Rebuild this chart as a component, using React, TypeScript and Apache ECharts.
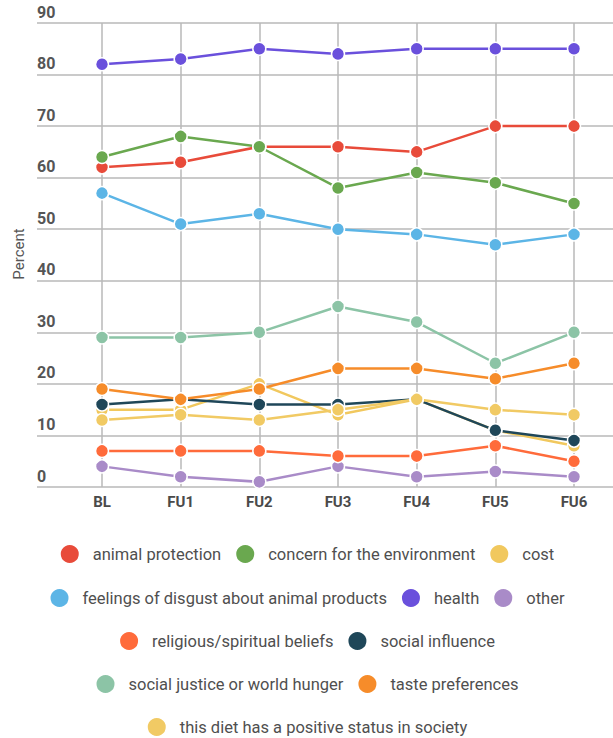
import React, { useEffect, useRef } from "react";
import * as echarts from "echarts";

// Survey waves on the x axis
const waves = ["BL", "FU1", "FU2", "FU3", "FU4", "FU5", "FU6"];

// Motivation percentages per wave
const animalProtection = [62, 63, 66, 66, 65, 70, 70];
const environment = [64, 68, 66, 58, 61, 59, 55];
const cost = [15, 15, 20, 14, 17, 11, 8];
const disgust = [57, 51, 53, 50, 49, 47, 49];
const health = [82, 83, 85, 84, 85, 85, 85];
const other = [4, 2, 1, 4, 2, 3, 2];
const religious = [7, 7, 7, 6, 6, 8, 5];
const socialInfluence = [16, 17, 16, 16, 17, 11, 9];
const socialJustice = [29, 29, 30, 35, 32, 24, 30];
const taste = [19, 17, 19, 23, 23, 21, 24];
const positiveStatus = [13, 14, 13, 15, 17, 15, 14];

const yTicks = [0, 10, 20, 30, 40, 50, 60, 70, 80, 90];

const seriesDefs = [
  { name: "animal protection", data: animalProtection, color: "#e84b3a" },
  { name: "concern for the environment", data: environment, color: "#6aa84f" },
  { name: "cost", data: cost, color: "#f1c85e" },
  { name: "feelings of disgust about animal products", data: disgust, color: "#5cb5e6" },
  { name: "health", data: health, color: "#6a50dc" },
  { name: "other", data: other, color: "#a98bc8" },
  { name: "religious/spiritual beliefs", data: religious, color: "#ff6b3b" },
  { name: "social influence", data: socialInfluence, color: "#1f4759" },
  { name: "social justice or world hunger", data: socialJustice, color: "#8cc4a6" },
  { name: "taste preferences", data: taste, color: "#f68c2a" },
  { name: "this diet has a positive status in society", data: positiveStatus, color: "#f1ca64" },
];

const legendRows = [
  ["animal protection", "concern for the environment", "cost"],
  ["feelings of disgust about animal products", "health", "other"],
  ["religious/spiritual beliefs", "social influence"],
  ["social justice or world hunger", "taste preferences"],
  ["this diet has a positive status in society"],
];
const legendRowCenters = [553, 597, 640, 683, 726];

export default function App() {
  const ref = useRef<HTMLDivElement>(null);

  useEffect(() => {
    if (!ref.current) return;
    const chart = echarts.init(ref.current, undefined, { renderer: "svg" });
    const font = "Roboto, 'Noto Sans', sans-serif";
    const plotTop = 23;
    const plotBottom = 738 - 487;
    const gridLine = { color: "#b8b8b8", width: 1.5 };

    chart.setOption({
      animation: false,
      backgroundColor: "#ffffff",
      grid: [
        { left: 37, right: 0, top: plotTop, bottom: plotBottom },
        { left: 102, right: 39, top: plotTop, bottom: plotBottom },
      ],
      xAxis: [
        { gridIndex: 0, type: "value", show: false, min: 0, max: 1 },
        {
          gridIndex: 1,
          type: "category",
          data: waves,
          boundaryGap: false,
          axisLine: { show: false },
          axisTick: { show: false },
          splitLine: { show: true, lineStyle: gridLine },
          axisLabel: {
            margin: 7,
            fontFamily: font,
            fontSize: 15,
            fontWeight: "bold",
            color: "#4a4a4a",
          },
        },
      ],
      yAxis: [
        {
          gridIndex: 0,
          type: "value",
          min: yTicks[0],
          max: yTicks[yTicks.length - 1],
          interval: 10,
          axisLine: { show: false },
          axisTick: { show: false },
          splitLine: { show: true, lineStyle: gridLine },
          axisLabel: {
            inside: true,
            margin: 0,
            verticalAlign: "bottom",
            padding: [0, 0, 3, 0],
            fontFamily: font,
            fontSize: 16,
            fontWeight: "bold",
            color: "#555555",
          },
        },
        {
          gridIndex: 1,
          type: "value",
          min: yTicks[0],
          max: yTicks[yTicks.length - 1],
          interval: 10,
          show: false,
          splitLine: { show: false },
        },
      ],
      legend: legendRows.map((row, i) => ({
        data: row,
        left: "center",
        top: legendRowCenters[i] - 15,
        icon: "circle",
        itemWidth: 20,
        itemHeight: 20,
        itemGap: 13,
        textStyle: {
          fontFamily: font,
          fontSize: 16.5,
          color: "#4f4f4f",
          padding: [0, 0, 0, 8],
        },
      })),
      graphic: [
        {
          type: "text",
          x: 19,
          y: 254,
          rotation: Math.PI / 2,
          style: {
            text: "Percent",
            fontFamily: font,
            fontSize: 15,
            fill: "#555555",
            align: "center",
            verticalAlign: "middle",
          },
        },
      ],
      series: seriesDefs.map((s) => ({
        name: s.name,
        type: "line",
        xAxisIndex: 1,
        yAxisIndex: 1,
        data: s.data,
        color: s.color,
        symbol: "circle",
        symbolSize: 13,
        showSymbol: true,
        lineStyle: { width: 2.5, color: s.color },
        itemStyle: { color: s.color, borderColor: "#ffffff", borderWidth: 1.5 },
        emphasis: { disabled: true },
      })),
    });

    return () => chart.dispose();
  }, []);

  return (
    <div
      ref={ref}
      style={{ position: "fixed", left: 0, top: 0, width: 613, height: 738 }}
    />
  );
}
